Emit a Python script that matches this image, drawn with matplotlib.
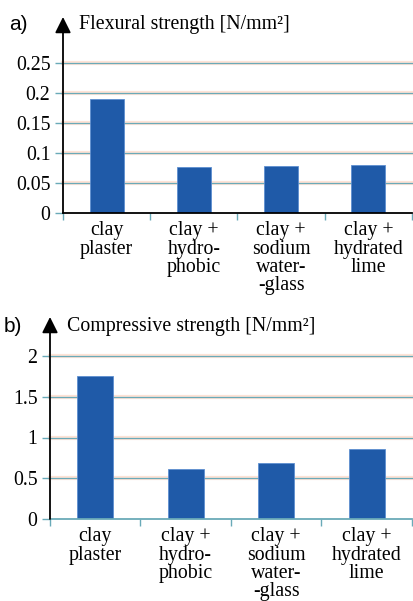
import matplotlib
matplotlib.use('Agg')
import matplotlib.pyplot as plt
import numpy as np

categories = ['clay\nplaster', 'clay +\nhydro-\nphobic', 'clay +\nsodium\nwater-\n-glass', 'clay +\nhydrated\nlime']
flexural = [0.19, 0.076, 0.079, 0.080]
compressive = [1.75, 0.61, 0.69, 0.86]
flex_ticks = [0, 0.05, 0.1, 0.15, 0.2, 0.25]
flex_labels = ['0', '0.05', '0.1', '0.15', '0.2', '0.25']
comp_ticks = [0, 0.5, 1, 1.5, 2]
comp_labels = ['0', '0.5', '1', '1.5', '2']

W, H = 414, 601
SERIF = 'Liberation Serif'
SANS = 'Liberation Sans'
BAR = '#1f5aa8'
GRID = '#6aaab8'
HALO = '#fde3d6'
FS = 14.3


def frac(left, top, right, bottom):
    return [left / W, 1 - bottom / H, (right - left) / W, (bottom - top) / H]


def panel(fig, rect, values, ticks, labels, ymax, arrow_top, base_color, width):
    ax = fig.add_axes(rect)
    x = np.arange(len(values))
    for t in ticks[1:]:
        ax.axhline(t, color=HALO, lw=3.0, zorder=0, clip_on=False)
        ax.axhline(t, color=GRID, lw=0.9, zorder=1, clip_on=False)
    ax.bar(x, values, width=width, color=BAR, edgecolor='#5e8fd0', linewidth=0.6, zorder=2)
    ax.set_xlim(-0.5, len(values) - 0.5)
    ax.set_ylim(0, ymax)
    ax.set_yticks(ticks)
    ax.set_yticklabels(labels, family=SERIF, fontsize=FS)
    ax.tick_params(axis='y', length=6, color=GRID, width=1, pad=3)
    ax.set_xticks(x)
    ax.set_xticklabels(categories, family=SERIF, fontsize=FS, linespacing=0.95)
    ax.tick_params(axis='x', length=0, pad=6)
    ax.set_xticks(np.arange(-0.5, len(values)), minor=True)
    ax.tick_params(axis='x', which='minor', length=5, color=GRID, width=1)
    for s in ['top', 'right', 'left']:
        ax.spines[s].set_visible(False)
    ax.spines['bottom'].set_color(base_color)
    ax.spines['bottom'].set_linewidth(1.3)
    ax.spines['bottom'].set_zorder(3)
    ax.annotate('', xy=(0, arrow_top), xytext=(0, 0), xycoords='axes fraction',
                arrowprops=dict(arrowstyle='-|>', mutation_scale=24, color='black', lw=1.3,
                                shrinkA=0, shrinkB=0),
                annotation_clip=False, zorder=4)
    return ax


fig = plt.figure(figsize=(W / 100, H / 100), dpi=100)

# a) flexural strength
panel(fig, frac(63, 63, 412, 213), flexural, flex_ticks, flex_labels, 0.25,
      (213 - 17) / 150, 'black', 0.39)
fig.text(9 / W, 1 - 25 / H, 'a)', family=SANS, fontsize=15, va='center')
fig.text(79 / W, 1 - 25 / H, 'Flexural strength [N/mm²]', family=SERIF, fontsize=FS, va='center')

# b) compressive strength
panel(fig, frac(50, 356, 412, 519), compressive, comp_ticks, comp_labels, 2,
      (519 - 317) / 163, GRID, 0.4)
fig.text(4 / W, 1 - 326 / H, 'b)', family=SANS, fontsize=15, va='center')
fig.text(67 / W, 1 - 326 / H, 'Compressive strength [N/mm²]', family=SERIF, fontsize=FS, va='center')

fig.savefig('out.png', dpi=100)
